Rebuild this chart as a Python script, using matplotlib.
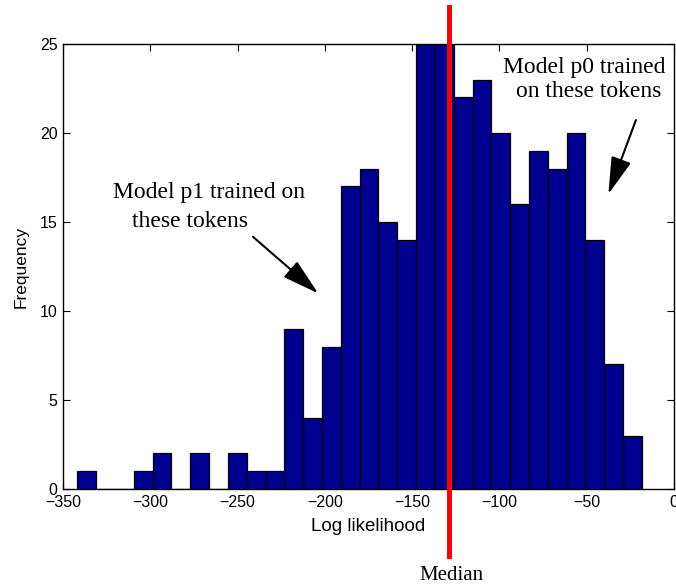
import numpy as np
import matplotlib
matplotlib.use("Agg")
import matplotlib.pyplot as plt

# Histogram of per-token log likelihoods (30 equal-width bins)
bin_lo = -341.8
bin_hi = -18.4
counts = [1, 0, 0, 1, 2, 0, 2, 0, 2, 1,
          1, 9, 4, 8, 17, 18, 15, 14, 25, 25,
          22, 23, 20, 16, 19, 18, 20, 14, 7, 3]
median_value = -129.0

x_ticks = [-350, -300, -250, -200, -150, -100, -50, 0]
y_ticks = [0, 5, 10, 15, 20, 25]

plt.rcParams["font.family"] = ["Liberation Sans", "DejaVu Sans"]
serif = ["Liberation Serif", "DejaVu Serif"]

fig = plt.figure(figsize=(6.76, 5.86), dpi=100)
ax = fig.add_axes([63 / 676, 97 / 586, 611 / 676, 445 / 586])

edges = np.linspace(bin_lo, bin_hi, len(counts) + 1)
ax.bar(edges[:-1], counts, width=np.diff(edges), align="edge",
       color="#000090", edgecolor="black", linewidth=0.9, zorder=2)

ax.set_xlim(-350, 0)
ax.set_ylim(0, 25)
ax.set_xticks(x_ticks)
ax.set_yticks(y_ticks)
ax.tick_params(direction="in", length=5, width=0.8, labelsize=11.5,
               top=True, right=True, pad=4)
for s in ax.spines.values():
    s.set_linewidth(1.0)

ax.set_xlabel("Log likelihood", fontsize=13.5, labelpad=6)
ax.set_ylabel("Frequency", fontsize=12.5, labelpad=8)

# Median marker extending past the axes
ax.axvline(median_value, ymin=-0.15, ymax=1.0825, color="#ff0000",
           linewidth=3.6, clip_on=False, zorder=3)
ax.text(median_value + 1.7, -0.2045, "Median", transform=ax.get_xaxis_transform(),
        ha="center", va="baseline", fontsize=15, family=serif)

arrow_style = dict(arrowstyle="-|>,head_length=1.15,head_width=0.32",
                   mutation_scale=20, color="black", lw=1.5,
                   shrinkA=0, shrinkB=0)

# Annotation for the lower-likelihood tokens
ax.annotate("", xy=(-203.8, 10.99), xytext=(-241.2, 14.17), arrowprops=arrow_style)
ax.text(-321.5, 16.33, "Model p1 trained on", ha="left", va="baseline",
        fontsize=17, family=serif)
ax.text(-310.6, 14.74, "these tokens", ha="left", va="baseline",
        fontsize=17, family=serif)

# Annotation for the higher-likelihood tokens
ax.annotate("", xy=(-37.6, 16.57), xytext=(-21.8, 20.73), arrowprops=arrow_style)
ax.text(-97.8, 23.35, "Model p0 trained", ha="left", va="baseline",
        fontsize=17, family=serif)
ax.text(-90.5, 22.04, "on these tokens", ha="left", va="baseline",
        fontsize=17, family=serif)

fig.savefig("out.png", dpi=100)
